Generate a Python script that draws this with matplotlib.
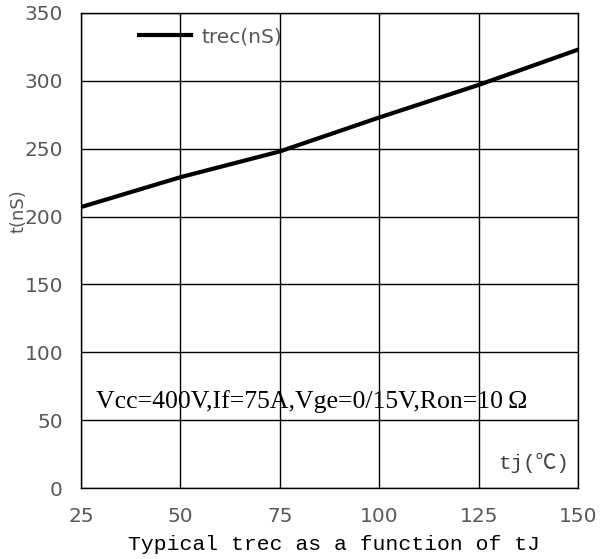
import matplotlib.pyplot as plt

# data
tj = [25, 50, 75, 100, 125, 150]
trec = [207, 229, 248, 273, 297, 323]

xticks = [25, 50, 75, 100, 125, 150]
yticks = [0, 50, 100, 150, 200, 250, 300, 350]

fig = plt.figure(figsize=(6.08, 5.59), dpi=100)
ax = fig.add_axes([81/608, 1-488/559, 497/608, 475/559])

ax.plot(tj, trec, color='black', lw=3, label='trec(nS)')
ax.set_xlim(25, 150)
ax.set_ylim(0, 350)
ax.set_xticks(xticks)
ax.set_yticks(yticks)
ax.grid(True, color='black', lw=1)
for s in ax.spines.values():
    s.set_color('black')
    s.set_linewidth(1)
ax.tick_params(length=0, labelsize=14.5, colors='#595959', pad=13)
ax.tick_params(axis='x', pad=14)

leg = ax.legend(loc='upper left', bbox_to_anchor=(0.08, 1.008), frameon=False,
                fontsize=14.5, handlelength=2.6, handletextpad=0.5)
for t in leg.get_texts():
    t.set_color('#595959')

ax.text(0.03, 0.168, 'Vcc=400V,If=75A,Vge=0/15V,Ron=10\u2009\u03a9', transform=ax.transAxes,
        family='Liberation Serif', fontsize=18.5, color='black')
ax.text(0.84, 0.04, 'tj(\u2103)', transform=ax.transAxes,
        family=['Liberation Mono', 'Noto Sans CJK SC'], fontsize=15, color='#404040')

fig.text(18/608, 1-211/559, 't(nS)', rotation=90, ha='center', va='center',
         fontsize=13, color='#595959')
fig.text(334/608, 1-545/559, 'Typical trec as a function of tJ', ha='center', va='center',
         family='Liberation Mono', fontsize=15.4, color='black')

fig.savefig('out.png', dpi=100)
